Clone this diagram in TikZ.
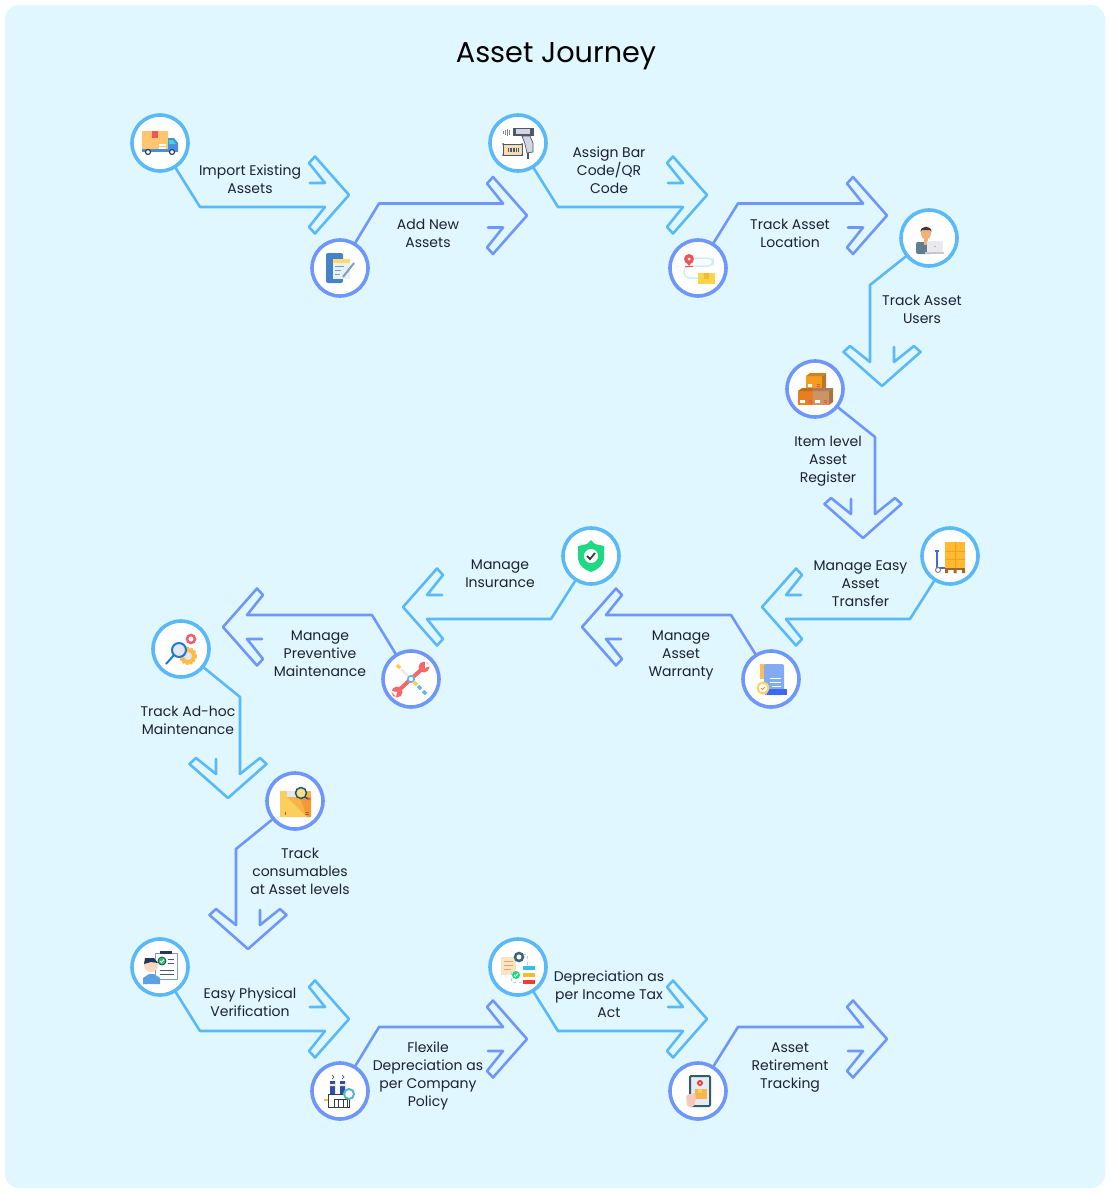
\documentclass[tikz,border=0pt]{standalone}
\usepackage{fontspec}
\setmainfont{Poppins}
\definecolor{panelcol}{HTML}{E0F7FF}
\definecolor{lightcol}{HTML}{5AB9F8}
\definecolor{bluecol}{HTML}{6F97FB}
\definecolor{textcol}{HTML}{1B2233}
% Icon colours
\definecolor{cardboard}{HTML}{FFC66E}
\definecolor{tapered}{HTML}{F2545B}
\definecolor{truckblue}{HTML}{4A8FDC}
\definecolor{truckteal}{HTML}{45D3D6}
\definecolor{darknavy}{HTML}{27405E}
\definecolor{phoneblue}{HTML}{4682C8}
\definecolor{notepale}{HTML}{E6F1F8}
\definecolor{noteyellow}{HTML}{FFDB6E}
\definecolor{penslate}{HTML}{7F9DB8}
\definecolor{scangrey}{HTML}{D5D6E2}
\definecolor{scandark}{HTML}{4A5A68}
\definecolor{scantan}{HTML}{F4DDB4}
\definecolor{routepale}{HTML}{C9F0FA}
\definecolor{boxyellow}{HTML}{FFD447}
\definecolor{boxamber}{HTML}{F6B93B}
\definecolor{skin}{HTML}{F2B078}
\definecolor{hairdark}{HTML}{3B3B40}
\definecolor{shirtslate}{HTML}{5F7F91}
\definecolor{laptopgrey}{HTML}{E9E9EE}
\definecolor{laptopdark}{HTML}{C6C7CF}
\definecolor{boxtop}{HTML}{F39C1E}
\definecolor{boxtopside}{HTML}{B9752B}
\definecolor{boxleft}{HTML}{E67E22}
\definecolor{boxright}{HTML}{CC9364}
\definecolor{boxrightside}{HTML}{A87445}
\definecolor{palletamber}{HTML}{FFB933}
\definecolor{palletline}{HTML}{F59F1F}
\definecolor{palletbrown}{HTML}{A8632B}
\definecolor{trolleyblue}{HTML}{3F6BE0}
\definecolor{scrollblue}{HTML}{82ABF5}
\definecolor{scrolldeep}{HTML}{3F68F0}
\definecolor{scrollspine}{HTML}{FFBE55}
\definecolor{badgeyellow}{HTML}{FFD35C}
\definecolor{badgecheck}{HTML}{F08A2E}
\definecolor{shieldgreen}{HTML}{1FD883}
\definecolor{wrenchred}{HTML}{F4686A}
\definecolor{handleyellow}{HTML}{FFC94D}
\definecolor{steelpale}{HTML}{ECE9EE}
\definecolor{bitblue}{HTML}{62B2F7}
\definecolor{gearamber}{HTML}{FBBD4A}
\definecolor{gearpink}{HTML}{EE5F6E}
\definecolor{lensblue}{HTML}{1E78D6}
\definecolor{lensfill}{HTML}{E4E6F0}
\definecolor{cartonlight}{HTML}{FBCF5E}
\definecolor{cartonmid}{HTML}{F7B347}
\definecolor{cartondeep}{HTML}{F29A38}
\definecolor{lensteal}{HTML}{1F5A6B}
\definecolor{checknavy}{HTML}{23395B}
\definecolor{shirtblue}{HTML}{5AA2E0}
\definecolor{skinpale}{HTML}{FBD8C0}
\definecolor{checkgreen}{HTML}{25C26E}
\definecolor{stackblue}{HTML}{2E4FA8}
\definecolor{gearteal}{HTML}{4FB8C8}
\definecolor{docpeach}{HTML}{FBE3C4}
\definecolor{docline}{HTML}{DDA868}
\definecolor{gearslate}{HTML}{3F6478}
\definecolor{barcyan}{HTML}{33BDF2}
\definecolor{baryellow}{HTML}{F5BC30}
\definecolor{barred}{HTML}{EE3B3B}
\definecolor{tabletframe}{HTML}{2F6067}
\definecolor{tabletpale}{HTML}{E6EBF2}
\definecolor{tabletbox}{HTML}{F9B54C}
\definecolor{handpink}{HTML}{F9C8BC}
\tikzset{
  lightline/.style={color=lightcol, line width=2.6pt, line cap=round, line join=round},
  blueline/.style={color=bluecol, line width=2.6pt, line cap=round, line join=round},
  lightring/.style={circle, draw=lightcol, line width=3.6pt, fill=white, inner sep=0pt, minimum size=56pt},
  bluering/.style={circle, draw=bluecol, line width=3.6pt, fill=white, inner sep=0pt, minimum size=56pt},
  assetlabel/.style={align=center, text=textcol, font=\fontsize{14}{18}\selectfont},
  pics/assethead/.style={code={
    \coordinate (-shaft) at (-24,12*#1);
    \draw (-24,12*#1) -- (-40,32*#1) -- (-34,38.5*#1) -- (0,0) -- (-34,-38.5*#1) -- (-40,-32*#1) -- (-24,-12*#1) -- (-39,-12*#1);
  }},
  pics/icontruck/.style={code={
    \fill[cardboard] (-18,-12) rectangle (8,8);
    \fill[tapered] (-8,-12) rectangle (-2,-5);
    \fill[white] (-1,1) rectangle (6,2.5);
    \fill[white] (-1,4) rectangle (6,5.5);
    \fill[truckblue] (8,-5) -- (14,-5) -- (18,0) -- (18,8) -- (8,8) -- cycle;
    \fill[truckteal] (9,-3) -- (13,-3) -- (16,1) -- (9,1) -- cycle;
    \fill[truckblue] (-18,6) rectangle (18,8.5);
    \filldraw[fill=white, draw=darknavy, line width=1.2pt] (-12,9) circle (2.5) (12,9) circle (2.5);
  }},
  pics/iconphone/.style={code={
    \fill[phoneblue, rounded corners=2pt] (-14,-15) rectangle (3,15);
    \fill[notepale] (-7,-9) rectangle (10,11);
    \fill[noteyellow] (-7,-9) rectangle (10,-5);
    \draw[penslate, line width=1pt] (-5,-2) -- (4,-2) (-5,2) -- (1,2) (-5,6) -- (0,6);
    \draw[penslate, line width=2pt] (3,9) -- (14,-5);
  }},
  pics/iconscanner/.style={code={
    \filldraw[fill=scangrey, draw=scandark, line width=.7pt] (4,-7) -- (12,-7) -- (15,0) -- (15,9) -- (9,10) -- (7,1) -- cycle;
    \fill[scandark] (-5,-15) rectangle (16,-7);
    \fill[scangrey] (-2,-14) rectangle (12,-9);
    \draw[scandark, line width=1.5pt] (10,10) -- (10,16);
    \draw[scandark!70, line width=.8pt] (-15,-12) -- (-15,-9) (-13,-13) -- (-13,-8) (-11,-14) -- (-11,-7) (-9,-13) -- (-9,-8);
    \filldraw[fill=scantan, draw=scandark, line width=.6pt] (-15,1) rectangle (4,12);
    \draw[scandark, line width=4pt, dash pattern=on .8pt off .8pt] (-10,6.5) -- (0,6.5);
    \fill[scandark] (-15,1) circle (1) (4,1) circle (1) (-15,12) circle (1) (4,12) circle (1);
  }},
  pics/iconroute/.style={code={
    \draw[routepale, line width=1.5pt, rounded corners=5pt] (-5,-10) -- (15,-10) -- (15,-2) -- (-14,-2) -- (-14,10) -- (2,10);
    \fill[tapered] (-9,-9) circle (5);
    \fill[white] (-9,-9) circle (1.5);
    \fill[tapered] (-13,-2) rectangle (-5,-1) (-12,-6) -- (-6,-6) -- (-9,-2) -- cycle;
    \fill[boxyellow] (0,5) rectangle (17,16);
    \fill[boxamber] (6,5) rectangle (11,11);
  }},
  pics/iconuser/.style={code={
    \fill[shirtslate, rounded corners=2pt] (-13,16) rectangle (3,4);
    \fill[skin] (-5,1) rectangle (-1,7);
    \fill[skin] (-3,-5) ellipse (5 and 6.5);
    \fill[hairdark] (-8.5,-6) .. controls (-9,-13) and (3,-13) .. (2.5,-6) -- (1,-8) -- (-7,-8) -- cycle;
    \fill[laptopgrey] (-2,3) rectangle (14,14);
    \fill[laptopdark] (-4,14) rectangle (15,16);
    \fill[gray!60] (6,8.5) circle (.8);
  }},
  pics/iconboxes/.style={code={
    \fill[boxtop] (-9,-13) rectangle (7,2);
    \fill[boxtop!85!black] (-9,-13) -- (-5,-16) -- (11,-16) -- (7,-13) -- cycle;
    \fill[boxtopside] (7,-13) -- (11,-16) -- (11,-1) -- (7,2) -- cycle;
    \fill[boxleft] (-17,2) rectangle (-2,16);
    \fill[boxleft!85!black] (-17,2) -- (-13,-1) -- (-2,-1) -- (-2,2) -- cycle;
    \fill[boxright] (-2,2) rectangle (14,16);
    \fill[boxright!85!black] (-2,-1) -- (18,-1) -- (14,2) -- (-2,2) -- cycle;
    \fill[boxrightside] (14,2) -- (18,-1) -- (18,13) -- (14,16) -- cycle;
    \fill[white] (-15,11) rectangle (-10,14) (0,11) rectangle (5,14) (-7,-5) rectangle (-3,-2);
    \fill[tapered] (-6,11) rectangle (-3,12) (-6,13) rectangle (-3,14) (9,11) rectangle (12,12) (9,13) rectangle (12,14) (2,-5) rectangle (5,-4) (2,-3) rectangle (5,-2);
  }},
  pics/iconpallet/.style={code={
    \fill[palletamber] (-5,-14) rectangle (15,12);
    \draw[palletline, line width=.6pt] (5,-14) -- (5,12) (-5,-5) -- (15,-5) (-5,3) -- (15,3);
    \fill[palletbrown] (-5,12) rectangle (15,14);
    \fill[palletbrown] (-5,14) rectangle (-2,17) (3.5,14) rectangle (6.5,17) (12,14) rectangle (15,17);
    \draw[trolleyblue, line width=1.5pt] (-13,-5) -- (-13,12) -- (-5,12);
    \draw[trolleyblue, line width=1.5pt] (-15,-5) -- (-11,-5);
    \filldraw[fill=white, draw=gray, line width=1pt] (-12,14) circle (2.5);
  }},
  pics/iconscroll/.style={code={
    \fill[scrollspine] (-11,-15) rectangle (-6,0);
    \fill[scrollblue, rounded corners=2pt] (-7,-15) rectangle (13,16);
    \draw[white, line width=1pt] (-1,-1) -- (10,-1) (-1,3) -- (10,3) (1,7) -- (10,7);
    \fill[scrolldeep] (-4,10) rectangle (16,16);
    \filldraw[fill=white, draw=badgeyellow, line width=2pt] (-8,9) circle (5.5);
    \draw[badgecheck, line width=1pt] (-10,9) -- (-8.5,10.5) -- (-6,8);
  }},
  pics/iconshield/.style={code={
    \fill[shieldgreen] (0,-16) -- (4,-12) -- (13,-10) -- (13,3) .. controls (12,10) and (6,14) .. (0,16) .. controls (-6,14) and (-12,10) .. (-13,3) -- (-13,-10) -- (-4,-12) -- cycle;
    \fill[white] (0,0) circle (7);
    \draw[hairdark, line width=1.8pt] (-4,0) -- (-1,3) -- (4,-3);
  }},
  pics/iconwrench/.style={code={
    \draw[wrenchred, line width=4pt] (-13,12) -- (12,-11);
    \fill[wrenchred] (13,-12) circle (5.5) (-14,13) circle (5.5);
    \fill[white] (14,-18) -- (19,-13) -- (14,-11) -- cycle;
    \fill[white] (-20,12) -- (-15,18) -- (-14,13) -- cycle;
    \draw[steelpale, line width=2.5pt] (-10,-10) -- (0,0);
    \draw[handleyellow, line width=3.2pt] (-14,-14) -- (-11,-11);
    \draw[handleyellow, line width=3.2pt] (3,3) -- (6,6);
    \draw[bitblue, line width=3.2pt] (7,7) -- (10,10) (12,12) -- (15,15);
    \filldraw[fill=white, draw=bitblue, line width=1.6pt] (0,0) circle (3.2);
  }},
  pics/icongears/.style={code={
    \filldraw[fill=gearamber, draw=gearamber, line width=2pt, dash pattern=on 2.5pt off 1.5pt] (7,7) circle (8);
    \fill[lensfill] (7,7) circle (4);
    \filldraw[fill=white, draw=gearpink, line width=2.5pt] (10,-10) circle (4);
    \draw[lensblue, line width=2pt] (-7,6) -- (-15,15);
    \filldraw[fill=lensfill, draw=lensblue, line width=2pt] (-2,1) circle (7);
  }},
  pics/iconcarton/.style={code={
    \fill[cartonmid] (-15,-10) rectangle (16,16);
    \fill[cartonlight] (-15,-10) -- (-8,-10) -- (-8,-4) -- (12,16) -- (-15,16) -- cycle;
    \fill[cartondeep] (5,-4) -- (16,-4) -- (16,16) -- (12,16) -- cycle;
    \fill[lensfill] (-8,-10) rectangle (5,-4);
    \filldraw[fill=cartonlight!70!white, draw=lensteal, line width=1.5pt] (6,-8) circle (5.5);
    \draw[lensteal, line width=1.5pt] (10,-4) -- (13,-2);
    \fill[tapered] (14,-2) circle (1.6);
    \draw[palletbrown, line width=.8pt] (-10,11) -- (-10,14) (10,11) -- (14,11) (10,13) -- (14,13);
  }},
  pics/iconchecklist/.style={code={
    \filldraw[fill=white, draw=penslate, line width=.8pt] (-5,-14) rectangle (17,12);
    \fill[checknavy] (0,-16) rectangle (12,-13.5);
    \draw[scandark, line width=.9pt] (8,-8) -- (14,-8) (8,-4) -- (14,-4) (0,3) -- (14,3) (0,7) -- (14,7);
    \fill[shirtblue] (-17,17) -- (-17,11) -- (-11,7) -- (-6,7) -- (0,11) -- (0,17) -- cycle;
    \fill[skinpale] (-9,-2) circle (7);
    \fill[checknavy] (-16,-3) -- (-15,-9) -- (-6,-9) -- (-2,-4) -- (-9,-5) -- cycle;
    \filldraw[fill=checkgreen, draw=checknavy, line width=.7pt] (2,-6) circle (4);
    \draw[white, line width=.8pt] (0,-6) -- (1.5,-4.5) -- (4,-7.5);
  }},
  pics/iconfactory/.style={code={
    \draw[scandark, line width=.7pt] (-8,-16) -- (-6,-14) -- (-8,-12) (2,-16) -- (4,-14) -- (2,-12);
    \fill[stackblue] (-10,-10) rectangle (-5,3) (0,-10) rectangle (5,3);
    \fill[docpeach] (-10,-7) rectangle (-5,-5) (0,-7) rectangle (5,-5);
    \filldraw[fill=white, draw=hairdark, line width=1pt] (-12,3) rectangle (9,16);
    \draw[hairdark, line width=1pt] (-6,8) rectangle (7,16) (-1.5,8) -- (-1.5,16) (3,8) -- (3,16);
    \fill[gearamber] (-16,8) rectangle (-12,10);
    \filldraw[fill=white, draw=gearteal, line width=2pt] (9,3) circle (5);
  }},
  pics/icontax/.style={code={
    \fill[docpeach] (-17,-10) rectangle (-2,8);
    \draw[docline, line width=.9pt] (-14,-6) -- (-5,-6) (-14,-2) -- (-5,-2) (-14,2) -- (-7,2);
    \draw[barcyan!50, line width=.7pt, dashed] (5,-13) -- (9,-13) -- (9,-1) (-7,5) -- (-7,15) -- (5,15);
    \filldraw[fill=white, draw=gearslate, line width=2.5pt] (1,-10) circle (4);
    \fill[barcyan] (5,-1) rectangle (17,3);
    \fill[baryellow] (5,6) rectangle (17,10);
    \fill[barred] (5,13) rectangle (17,17);
    \fill[shieldgreen] (-2,8) circle (4);
    \draw[white, line width=.8pt] (-4,8) -- (-2.5,9.5) -- (0,6.5);
  }},
  pics/icontablet/.style={code={
    \filldraw[fill=tabletpale, draw=tabletframe, line width=2pt, rounded corners=1pt] (-8,-15) rectangle (12,15);
    \fill[tabletbox] (-3,-2) rectangle (9,8);
    \fill[cartonlight] (0,-2) rectangle (4,2);
    \fill[barred] (2,-8) circle (3);
    \fill[white] (2,-8) circle (1);
    \fill[handpink, rounded corners=2pt] (-12,4) -- (-3,2) -- (-2,7) -- (-4,16) -- (-11,16) -- cycle;
  }}
}
\begin{document}
\begin{tikzpicture}[x=1pt,y=-1pt]
    % Draw the page and the panel
    \useasboundingbox (0,0) rectangle (1110,1194);
    \fill[white] (0,0) rectangle (1110,1194);
    \fill[panelcol, rounded corners=14pt] (5,5) rectangle (1105,1188);

    % Add the title
    \node[text=black, font=\fontsize{28.7}{34}\selectfont] (journeytitle) at (556,56) {Asset Journey};

    % Draw the step circles with their icons
    \foreach \stepname/\sx/\sy/\ringstyle/\iconname in {
      import/160/143/lightring/icontruck,
      addnew/340/268/bluering/iconphone,
      barcode/518/143/lightring/iconscanner,
      location/698/268/bluering/iconroute,
      users/929/238/lightring/iconuser,
      register/815/389/bluering/iconboxes,
      transfer/950/556/lightring/iconpallet,
      warranty/771/679/bluering/iconscroll,
      insurance/591/556/lightring/iconshield,
      preventive/411/679/bluering/iconwrench,
      adhoc/181/649/lightring/icongears,
      consumables/295/801/bluering/iconcarton,
      physical/160/967/lightring/iconchecklist,
      flexible/340/1091/bluering/iconfactory,
      incometax/518/967/lightring/icontax,
      retirement/698/1091/bluering/icontablet} {
      \node[\ringstyle] (\stepname) at (\sx,\sy) {};
      \pic at (\stepname) {\iconname};
    }

    % Draw the arrows from each circle
    \foreach \stepname/\bx/\by/\tx/\ty/\rot/\side/\linestyle in {
      import/200/207/349/195/0/1/lightline,
      addnew/379/203.5/527/215.5/0/-1/blueline,
      barcode/558/207/707/195/0/1/lightline,
      location/738/203.5/887/215.5/0/-1/blueline,
      users/870/285/882/386/-90/1/lightline,
      register/875/437/863/538/-90/-1/blueline,
      transfer/910/619/762/607/180/-1/lightline,
      warranty/731/615/582/627/180/1/blueline,
      insurance/551/619/403/607/180/-1/lightline,
      preventive/372/615/223/627/180/1/blueline,
      adhoc/240/697/228/798/-90/-1/lightline,
      consumables/236/849/248/949/-90/1/blueline,
      physical/200/1031/349/1019/0/1/lightline,
      flexible/379/1027/527/1039/0/-1/blueline,
      incometax/558/1031/707/1019/0/1/lightline,
      retirement/738/1027/887/1039/0/-1/blueline} {
      \coordinate (\stepname bend) at (\bx,\by);
      \pic[\linestyle, rotate=\rot] (\stepname head) at (\tx,\ty) {assethead=\side};
      \draw[\linestyle] (\stepname) -- (\stepname bend) -- (\stepname head-shaft);
    }

    % Add the labels
    \node[assetlabel] (importlabel) at (250,179) {Import Existing\\Assets};
    \node[assetlabel] (addnewlabel) at (428,233) {Add New\\Assets};
    \node[assetlabel] (barcodelabel) at (609,170) {Assign Bar\\Code/QR\\Code};
    \node[assetlabel] (locationlabel) at (790,233) {Track Asset\\Location};
    \node[assetlabel] (userslabel) at (922,309) {Track Asset\\Users};
    \node[assetlabel] (registerlabel) at (828,461) {Item level\\Asset\\Register};
    \node[assetlabel] (transferlabel) at (860.5,584) {Manage Easy\\Asset\\Transfer};
    \node[assetlabel] (insurancelabel) at (500,574) {Manage\\Insurance};
    \node[assetlabel] (warrantylabel) at (681,655) {Manage\\Asset\\Warranty};
    \node[assetlabel] (preventivelabel) at (320,654) {Manage\\Preventive\\Maintenance};
    \node[assetlabel] (adhoclabel) at (188,720) {Track Ad-hoc\\Maintenance};
    \node[assetlabel] (consumableslabel) at (300,871) {Track\\consumables\\at Asset levels};
    \node[assetlabel] (physicallabel) at (250,1002) {Easy Physical\\Verification};
    \node[assetlabel] (flexiblelabel) at (428,1076) {Flexile\\Depreciation as\\per Company\\Policy};
    \node[assetlabel] (incometaxlabel) at (609,994) {Depreciation as\\per Income Tax\\Act};
    \node[assetlabel] (retirementlabel) at (790,1067.5) {Asset\\Retirement\\Tracking};
\end{tikzpicture}
\end{document}
